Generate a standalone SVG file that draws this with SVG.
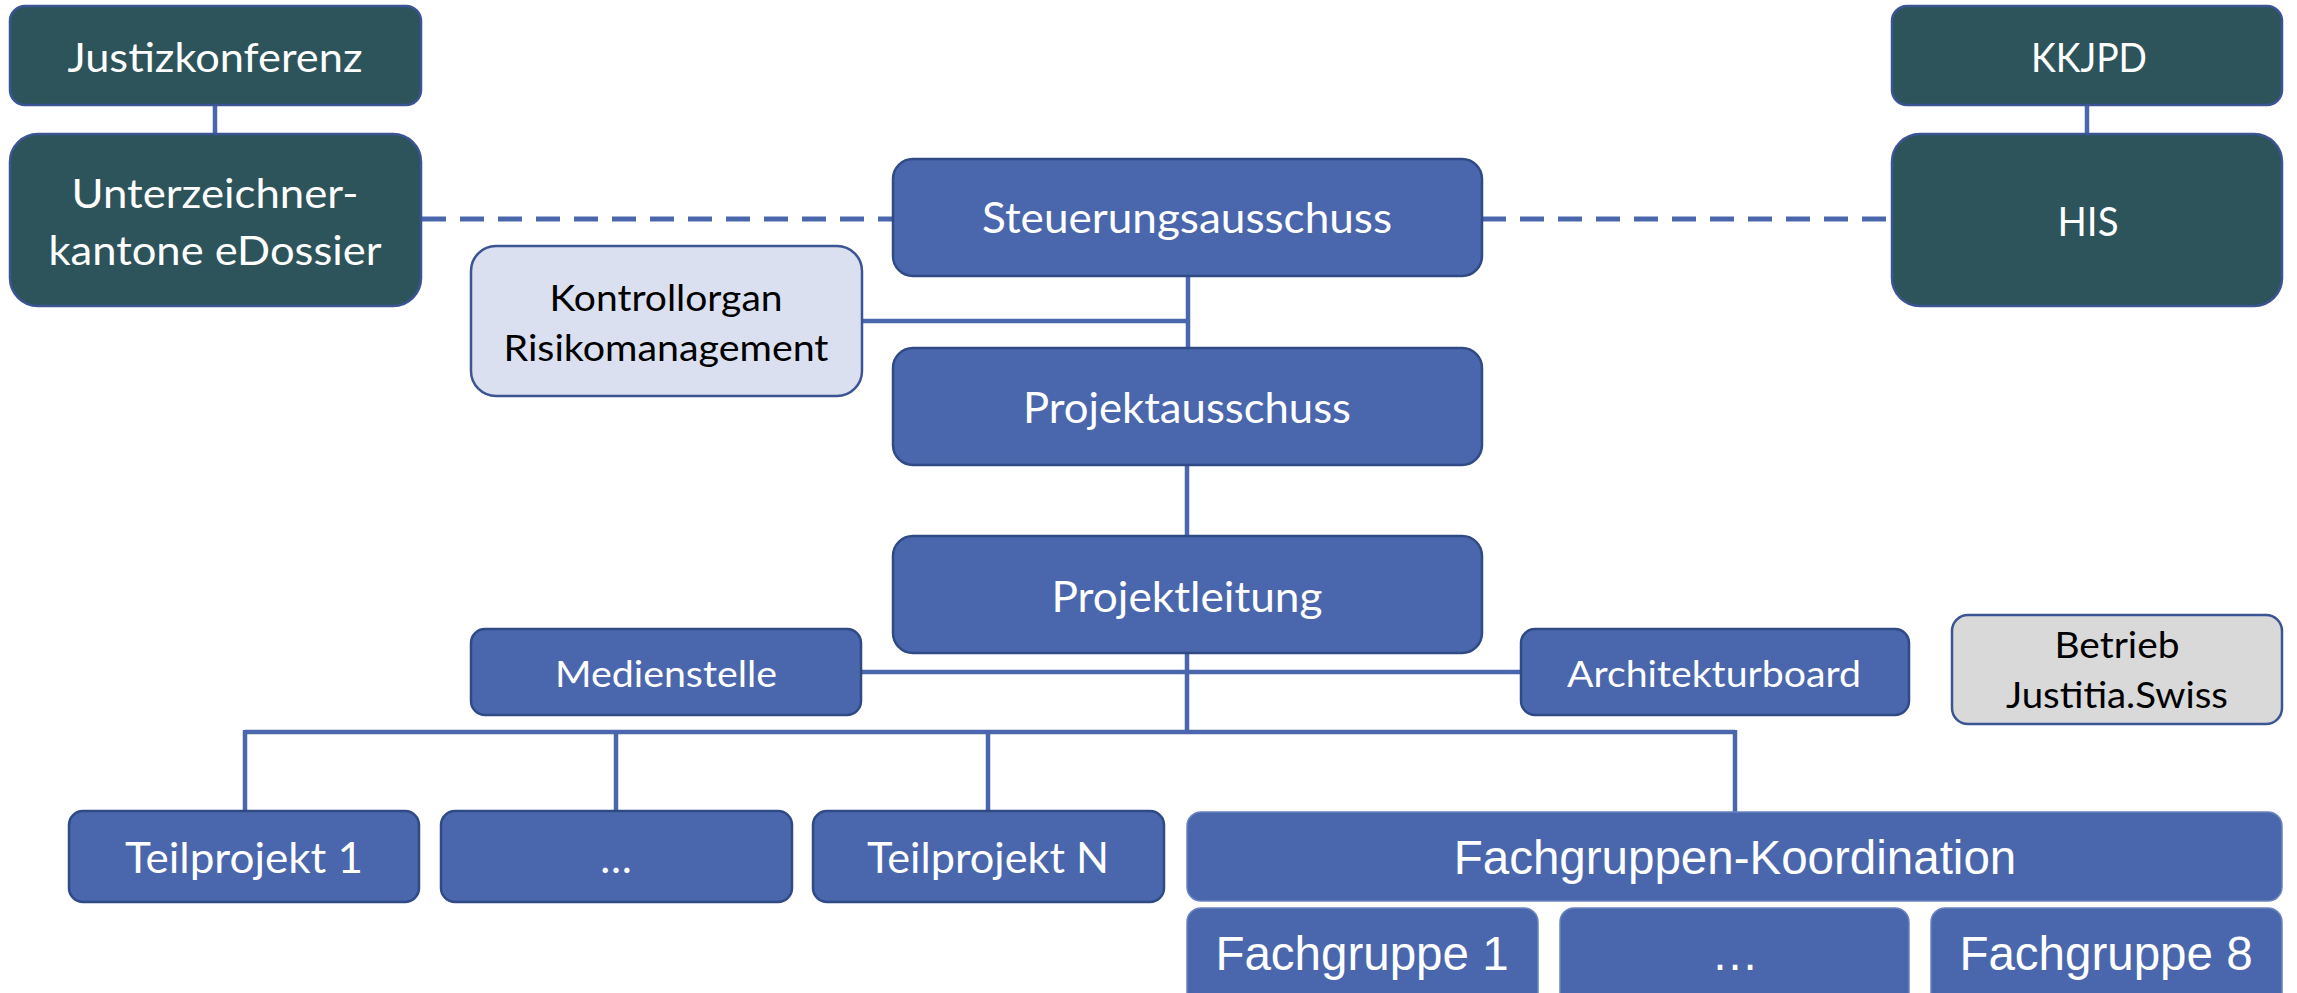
<svg xmlns="http://www.w3.org/2000/svg" width="2297" height="993" viewBox="0 0 2297 993">
<style>
.dark{fill:#2d545b;stroke:#3b5494;stroke-width:2.5}
.blue{fill:#4a67ad;stroke:#2f4a85;stroke-width:2.5}
.blue2{fill:#4a67ad;stroke:#6a84c0;stroke-width:1.5}
.light{fill:#dae0f0;stroke:#3b5494;stroke-width:2.5}
.gray{fill:#d9d9d9;stroke:#3b5494;stroke-width:2.5}
.c{font-family:Lato,"Open Sans","Noto Sans",sans-serif;text-anchor:middle}
.w{fill:#ffffff}
.k{fill:#000000}
.a{font-family:"Liberation Sans",Arial,sans-serif;fill:#ffffff;text-anchor:middle;font-size:47.5px}
.ln{stroke:#4a67ad;stroke-width:4.5;fill:none}
.dash{stroke:#4a67ad;stroke-width:5;fill:none;stroke-dasharray:24 14}
</style>
<g id="connectors">
<line class="ln" x1="215" y1="106" x2="215" y2="134"/>
<line class="ln" x1="2087" y1="106" x2="2087" y2="134"/>
<line class="dash" x1="422" y1="219" x2="893" y2="219"/>
<line class="dash" x1="1482" y1="219" x2="1892" y2="219"/>
<line class="ln" x1="1188" y1="276" x2="1188" y2="348"/>
<line class="ln" x1="862" y1="321" x2="1188" y2="321"/>
<line class="ln" x1="1187" y1="465" x2="1187" y2="536"/>
<line class="ln" x1="1187" y1="653" x2="1187" y2="732"/>
<line class="ln" x1="861" y1="672" x2="1521" y2="672"/>
<line class="ln" x1="245" y1="732" x2="1735" y2="732"/>
<line class="ln" x1="245" y1="730" x2="245" y2="811"/>
<line class="ln" x1="616" y1="730" x2="616" y2="811"/>
<line class="ln" x1="988" y1="730" x2="988" y2="811"/>
<line class="ln" x1="1735" y1="730" x2="1735" y2="812"/>
</g>
<g id="justizkonferenz"><rect class="dark" x="10" y="6" width="411" height="99" rx="15"/><text class="c w" x="215" y="72" font-size="41" textLength="295" lengthAdjust="spacingAndGlyphs">Justizkonferenz</text></g>
<g id="unterzeichner"><rect class="dark" x="10" y="134" width="411" height="172" rx="28"/><text class="c w" x="215" y="208" font-size="41" textLength="287" lengthAdjust="spacingAndGlyphs">Unterzeichner-</text><text class="c w" x="215" y="265" font-size="41" textLength="333" lengthAdjust="spacingAndGlyphs">kantone eDossier</text></g>
<g id="kkjpd"><rect class="dark" x="1892" y="6" width="390" height="99" rx="15"/><text class="c w" x="2089" y="72" font-size="41" textLength="116" lengthAdjust="spacingAndGlyphs">KKJPD</text></g>
<g id="his"><rect class="dark" x="1892" y="134" width="390" height="172" rx="28"/><text class="c w" x="2088" y="236" font-size="41" textLength="61" lengthAdjust="spacingAndGlyphs">HIS</text></g>
<g id="steuerungsausschuss"><rect class="blue" x="893" y="159" width="589" height="117" rx="20"/><text class="c w" x="1187" y="233" font-size="42" textLength="410" lengthAdjust="spacingAndGlyphs">Steuerungsausschuss</text></g>
<g id="kontrollorgan"><rect class="light" x="471" y="246" width="391" height="150" rx="25"/><text class="c k" x="666" y="311" font-size="37" textLength="233" lengthAdjust="spacingAndGlyphs">Kontrollorgan</text><text class="c k" x="666" y="361" font-size="37" textLength="325" lengthAdjust="spacingAndGlyphs">Risikomanagement</text></g>
<g id="projektausschuss"><rect class="blue" x="893" y="348" width="589" height="117" rx="20"/><text class="c w" x="1187" y="423" font-size="42" textLength="328" lengthAdjust="spacingAndGlyphs">Projektausschuss</text></g>
<g id="projektleitung"><rect class="blue" x="893" y="536" width="589" height="117" rx="20"/><text class="c w" x="1187" y="612" font-size="42" textLength="271" lengthAdjust="spacingAndGlyphs">Projektleitung</text></g>
<g id="medienstelle"><rect class="blue" x="471" y="629" width="390" height="86" rx="14"/><text class="c w" x="666" y="687" font-size="37" textLength="222" lengthAdjust="spacingAndGlyphs">Medienstelle</text></g>
<g id="architekturboard"><rect class="blue" x="1521" y="629" width="388" height="86" rx="14"/><text class="c w" x="1714" y="687" font-size="37" textLength="294" lengthAdjust="spacingAndGlyphs">Architekturboard</text></g>
<g id="betrieb"><rect class="gray" x="1952" y="615" width="330" height="109" rx="16"/><text class="c k" x="2117" y="658" font-size="37" textLength="125" lengthAdjust="spacingAndGlyphs">Betrieb</text><text class="c k" x="2117" y="708" font-size="37" textLength="222" lengthAdjust="spacingAndGlyphs">Justitia.Swiss</text></g>
<g id="teilprojekt1"><rect class="blue" x="69" y="811" width="350" height="91" rx="14"/><text class="c w" x="244" y="873" font-size="42" textLength="238" lengthAdjust="spacingAndGlyphs">Teilprojekt 1</text></g>
<g id="teilprojekt-dots"><rect class="blue" x="441" y="811" width="351" height="91" rx="14"/><text class="c w" x="616" y="873" font-size="42">…</text></g>
<g id="teilprojektN"><rect class="blue" x="813" y="811" width="351" height="91" rx="14"/><text class="c w" x="988" y="873" font-size="42" textLength="242" lengthAdjust="spacingAndGlyphs">Teilprojekt N</text></g>
<g id="fachgruppen-koordination"><rect class="blue2" x="1187" y="812" width="1095" height="89" rx="14"/><text class="a" x="1735" y="874">Fachgruppen-Koordination</text></g>
<g id="fachgruppe1"><rect class="blue2" x="1187" y="908" width="351" height="110" rx="14"/><text class="a" x="1362" y="970">Fachgruppe 1</text></g>
<g id="fachgruppe-dots"><rect class="blue2" x="1560" y="908" width="349" height="110" rx="14"/><text class="a" x="1735" y="970">…</text></g>
<g id="fachgruppe8"><rect class="blue2" x="1931" y="908" width="351" height="110" rx="14"/><text class="a" x="2106" y="970">Fachgruppe 8</text></g>
</svg>
